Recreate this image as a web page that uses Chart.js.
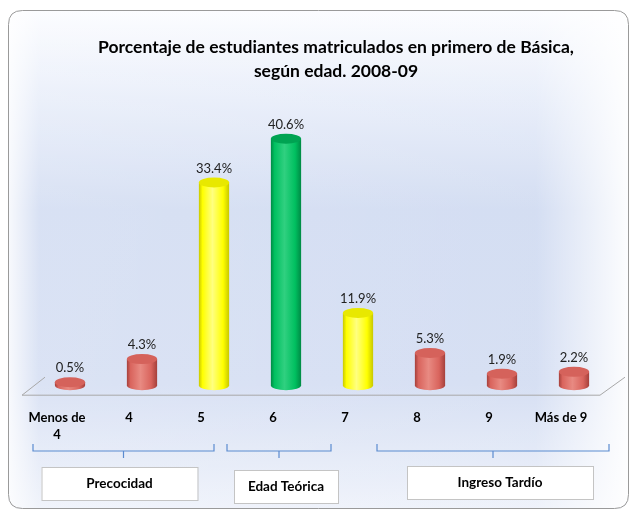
<!DOCTYPE html>
<html>
<head>
<meta charset="utf-8">
<script src="https://cdn.jsdelivr.net/npm/chart.js@4.4.1/dist/chart.umd.min.js"></script>
<style>
  html, body { margin: 0; padding: 0; background: #ffffff; }
  #wrap { position: relative; width: 630px; height: 513px; }
</style>
</head>
<body>
<div id="wrap"><canvas id="chart" width="630" height="513"></canvas></div>
<script>
// data
const categories = [['Menos de', '4'], '4', '5', '6', '7', '8', '9', 'Más de 9'];
const percentages = [0.5, 4.3, 33.4, 40.6, 11.9, 5.3, 1.9, 2.2];
const titleLines = ['Porcentaje de estudiantes matriculados en primero de Básica,', 'según edad. 2008-09'];
const groups = [
  { label: 'Precocidad', from: 0, to: 2 },
  { label: 'Edad Teórica', from: 3, to: 3 },
  { label: 'Ingreso Tardío', from: 5, to: 7 }
];
// colour of each cylinder: red / yellow / green
const barKinds = ['red', 'red', 'yellow', 'green', 'yellow', 'red', 'red', 'red'];

const FONT = 'Lato, "Open Sans", sans-serif';
const palette = {
  red:    { dark: '#a5403b', mid: '#d9645d', light: '#e88a82', top: '#d5625b' },
  yellow: { dark: '#c8c800', mid: '#ffff00', light: '#ffff80', top: '#e8e800' },
  green:  { dark: '#008a45', mid: '#00c060', light: '#30d080', top: '#00a352' }
};

function roundRect(ctx, x, y, w, h, r) {
  ctx.beginPath();
  ctx.moveTo(x + r, y);
  ctx.lineTo(x + w - r, y);
  ctx.quadraticCurveTo(x + w, y, x + w, y + r);
  ctx.lineTo(x + w, y + h - r);
  ctx.quadraticCurveTo(x + w, y + h, x + w - r, y + h);
  ctx.lineTo(x + r, y + h);
  ctx.quadraticCurveTo(x, y + h, x, y + h - r);
  ctx.lineTo(x, y + r);
  ctx.quadraticCurveTo(x, y, x + r, y);
  ctx.closePath();
}

// background frame, floor and title
const backdrop = {
  id: 'backdrop',
  beforeDraw(chart) {
    const ctx = chart.ctx;
    const a = chart.chartArea;
    ctx.save();
    roundRect(ctx, 8, 10, 621, 499, 14);
    const g = ctx.createLinearGradient(0, 10, 0, 509);
    g.addColorStop(0, '#fbfcff');
    g.addColorStop(0.18, '#e6ecf9');
    g.addColorStop(0.4, '#cfdaf1');
    g.addColorStop(0.75, '#d2dcf2');
    g.addColorStop(1, '#edf1fa');
    ctx.fillStyle = g;
    ctx.fill();
    ctx.save();
    ctx.clip();
    const h = ctx.createLinearGradient(8, 0, 629, 0);
    h.addColorStop(0, 'rgba(255,255,255,0.85)');
    h.addColorStop(0.05, 'rgba(255,255,255,0.2)');
    h.addColorStop(0.85, 'rgba(255,255,255,0.1)');
    h.addColorStop(1, 'rgba(255,255,255,0.95)');
    ctx.fillStyle = h;
    ctx.fillRect(8, 10, 621, 499);
    ctx.restore();
    ctx.strokeStyle = '#9a9a9a';
    ctx.lineWidth = 1;
    roundRect(ctx, 8.5, 10.5, 620, 498, 14);
    ctx.stroke();

    // floor outline
    const fy = a.bottom + 10;
    ctx.strokeStyle = '#a8a8a8';
    ctx.beginPath();
    ctx.moveTo(a.left + 11, a.bottom - 8);
    ctx.lineTo(a.left - 12, fy);
    ctx.lineTo(a.right - 10, fy);
    ctx.lineTo(a.right + 15, a.bottom - 8);
    ctx.stroke();

    // title
    ctx.fillStyle = '#000';
    ctx.font = 'bold 17.5px ' + FONT;
    ctx.textAlign = 'center';
    ctx.textBaseline = 'middle';
    ctx.fillText(titleLines[0], 336, 47);
    ctx.fillText(titleLines[1], 336, 71);
    ctx.restore();
  }
};

// cylinders and value labels
const cylinders = {
  id: 'cylinders',
  afterDatasetsDraw(chart) {
    const ctx = chart.ctx;
    const meta = chart.getDatasetMeta(0);
    ctx.save();
    meta.data.forEach((bar, i) => {
      const c = palette[barKinds[i]];
      const rx = bar.width / 2;
      const ry = 5;
      const x = bar.x;
      const top = bar.y;
      const base = bar.base;
      const grad = ctx.createLinearGradient(x - rx, 0, x + rx, 0);
      grad.addColorStop(0, c.dark);
      grad.addColorStop(0.12, c.mid);
      grad.addColorStop(0.45, c.light);
      grad.addColorStop(0.8, c.mid);
      grad.addColorStop(1, c.dark);
      ctx.fillStyle = grad;
      ctx.beginPath();
      ctx.moveTo(x - rx, top);
      ctx.lineTo(x - rx, base);
      ctx.ellipse(x, base, rx, ry, 0, Math.PI, 0, true);
      ctx.lineTo(x + rx, top);
      ctx.closePath();
      ctx.fill();
      ctx.fillStyle = c.top;
      ctx.beginPath();
      ctx.ellipse(x, top, rx, ry, 0, 0, Math.PI * 2);
      ctx.fill();

      ctx.fillStyle = '#222';
      ctx.font = '13px ' + FONT;
      ctx.textAlign = 'center';
      ctx.textBaseline = 'middle';
      ctx.fillText(percentages[i].toFixed(1) + '%', x, top - 14);
    });
    ctx.restore();
  }
};

// brackets and group boxes under the axis
const groupBoxes = {
  id: 'groupBoxes',
  afterDraw(chart) {
    const ctx = chart.ctx;
    const xs = chart.scales.x;
    const step = xs.getPixelForValue(1) - xs.getPixelForValue(0);
    ctx.save();
    groups.forEach((grp, k) => {
      const left = xs.getPixelForValue(grp.from) - step / 2 - 1 + (k === 1 ? -22 : 0) + (k === 2 ? -16 : 0);
      const right = xs.getPixelForValue(grp.to) + (k === 2 ? 35 : 0) + (k === 1 ? 45 : 0);
      const mid = (left + right) / 2;
      ctx.strokeStyle = '#5b8bd0';
      ctx.lineWidth = 1.2;
      ctx.beginPath();
      ctx.moveTo(left, 444);
      ctx.lineTo(left, 451);
      ctx.lineTo(right, 451);
      ctx.lineTo(right, 444);
      ctx.moveTo(mid, 451);
      ctx.lineTo(mid, 458);
      ctx.stroke();

      ctx.font = 'bold 13.5px ' + FONT;
      const bw = [156, 104, 186][k];
      const by = [467, 470, 466][k];
      const bx = mid - bw / 2 + [-4, 7, 7][k];
      ctx.fillStyle = '#ffffff';
      ctx.fillRect(bx, by, bw, 33);
      ctx.strokeStyle = '#c4c4c4';
      ctx.lineWidth = 1;
      ctx.strokeRect(bx + 0.5, by + 0.5, bw, 33);
      ctx.fillStyle = '#000';
      ctx.textAlign = 'center';
      ctx.textBaseline = 'middle';
      ctx.fillText(grp.label, bx + bw / 2, by + 17);
    });
    ctx.restore();
  }
};

new Chart(document.getElementById('chart'), {
  type: 'bar',
  data: {
    labels: categories,
    datasets: [{
      data: percentages,
      backgroundColor: 'rgba(0,0,0,0)',
      categoryPercentage: 1,
      barPercentage: 0.42
    }]
  },
  options: {
    responsive: false,
    animation: false,
    events: [],
    layout: { padding: { top: 112, left: 34, right: 20, bottom: 54 } },
    plugins: {
      legend: { display: false },
      tooltip: { enabled: false },
      title: { display: false }
    },
    scales: {
      x: {
        grid: { display: false },
        border: { display: false },
        ticks: {
          padding: 16,
          labelOffset: -13,
          color: '#000',
          font: { family: FONT, size: 13, weight: 'bold', lineHeight: 1.3 }
        }
      },
      y: {
        display: false,
        min: 0,
        max: 45
      }
    }
  },
  plugins: [backdrop, cylinders, groupBoxes]
});
</script>
</body>
</html>
